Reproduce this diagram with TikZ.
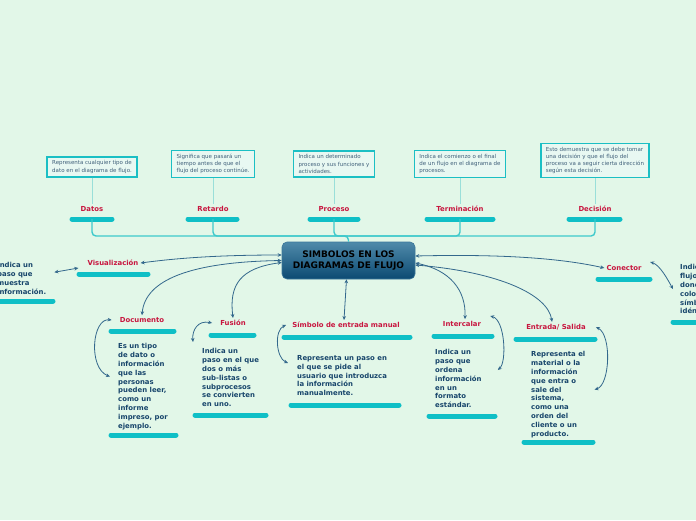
\documentclass[tikz,border=0pt]{standalone}
\usepackage{fontspec}
\setmainfont{DejaVu Sans}
\usetikzlibrary{arrows.meta}
\definecolor{bgc}{HTML}{E2F7E8}
\definecolor{barc}{HTML}{0FBFC6}
\definecolor{toplinec}{HTML}{3DC9CB}
\definecolor{lightlinec}{HTML}{9ADFD9}
\definecolor{arrc}{HTML}{33688C}
\definecolor{labc}{HTML}{C8163F}
\definecolor{descc}{HTML}{17456B}
\definecolor{boxtc}{HTML}{40607A}
\definecolor{boxbc}{HTML}{1BBFC4}
\definecolor{boxfc}{HTML}{E8F8F2}
\definecolor{ctop}{HTML}{4F8AAA}
\definecolor{cbot}{HTML}{0C4A72}
\tikzset{
  lab/.style={text=labc, font=\fontsize{6.9}{8}\selectfont\bfseries, inner sep=2pt},
  desc/.style={text=descc, font=\fontsize{6.9}{8.9}\selectfont\bfseries, align=left, inner sep=0pt, anchor=north west},
  topbox/.style={draw=boxbc, line width=1.6pt, fill=boxfc, text=boxtc, font=\fontsize{5.5}{7.3}\selectfont, align=left, inner xsep=5pt, inner ysep=3.5pt},
  bar/.style={barc, line width=5pt, line cap=round},
  topline/.style={toplinec, line width=1.4pt, rounded corners=4pt},
  thinline/.style={lightlinec, line width=1pt},
  arr/.style={arrc, line width=0.8pt, {Stealth[length=4pt,width=3.6pt]}-{Stealth[length=4pt,width=3.6pt]}},
  centre/.style={rounded corners=5pt, top color=ctop, bottom color=cbot, draw=ctop!70!cbot, line width=0.6pt, minimum width=133pt, minimum height=37pt, align=center, font=\fontsize{9}{11}\selectfont\bfseries, text=black}
}
\begin{document}
\begin{tikzpicture}[x=1pt,y=-1pt]
\fill[bgc] (0,0) rectangle (696,520);
\useasboundingbox (0,0) rectangle (696,520);

% centre
\node[centre] (c) at (348.5,260.5) {SIMBOLOS EN LOS\\DIAGRAMAS DE FLUJO};

% top branches
\node[lab] (datos) at (92,209) {Datos};
\node[lab] (retardo) at (213,209) {Retardo};
\node[lab] (proceso) at (334,209) {Proceso};
\node[lab] (term) at (460,209) {Terminación};
\node[lab] (decis) at (595,209) {Decisión};
\draw[bar] (72,219) -- (112,219);
\draw[bar] (188,219) -- (237,219);
\draw[bar] (310,219) -- (358,219);
\draw[bar] (427,219) -- (493,219);
\draw[bar] (569,219) -- (620,219);

\node[topbox] (datosb) at (92,167) {Representa cualquier tipo de\\dato en el diagrama de flujo.};
\node[topbox] (retardob) at (213,164) {Significa que pasará un\\tiempo antes de que el\\flujo del proceso continúe.};
\node[topbox] (procesob) at (334,164) {Indica un determinado\\proceso y sus funciones y\\actividades.};
\node[topbox] (termb) at (460,164) {Indica el comienzo o el final\\de un flujo en el diagrama de\\procesos.};
\node[topbox] (decisb) at (595,160.5) {Esto demuestra que se debe tomar\\una decisión y que el flujo del\\proceso va a seguir cierta dirección\\según esta decisión.};

\draw[thinline] (datosb.south) -- (datos.north);
\draw[thinline] (retardob.south) -- (retardo.north);
\draw[thinline] (procesob.south) -- (proceso.north);
\draw[thinline] (termb.south) -- (term.north);
\draw[thinline] (decisb.south) -- (decis.north);

\draw[topline] ([yshift=-10pt]datos.center) |- (348.5,236) -- (c.north);
\draw[topline] ([yshift=-10pt]retardo.center) |- (348.5,236);
\draw[topline] ([yshift=-10pt]proceso.center) |- (348.5,236);
\draw[topline] ([yshift=-10pt]term.center) |- (348.5,236);
\draw[topline] ([yshift=-10pt]decis.center) |- (348.5,236);

% labels of the lower branches
\node[lab] (vis) at (113,263) {Visualización};
\node[lab] (doc) at (142,320) {Documento};
\node[lab] (fus) at (233,323) {Fusión};
\node[lab] (man) at (346,325) {Símbolo de entrada manual};
\node[lab] (int) at (462,324) {Intercalar};
\node[lab] (ent) at (556,327) {Entrada/ Salida};
\node[lab] (con) at (624,268) {Conector};
\draw[bar] (79,274) -- (148,274);
\draw[bar] (111,331) -- (174,331);
\draw[bar] (211,335) -- (254,335);
\draw[bar] (284,337) -- (410,337);
\draw[bar] (434,336) -- (492,336);
\draw[bar] (516,339) -- (595,339);
\draw[bar] (598,279) -- (650,279);

% descriptions
\node[desc] (visd) at (-3,262) {Indica un\\paso que\\muestra\\información.};
\node[desc] (docd) at (118,343) {Es un tipo\\de dato o\\información\\que las\\personas\\pueden leer,\\como un\\informe\\impreso, por\\ejemplo.};
\node[desc] (fusd) at (202,348) {Indica un\\paso en el que\\dos o más\\sub-listas o\\subprocesos\\se convierten\\en uno.};
\node[desc] (mand) at (297,355) {Representa un paso en\\el que se pide al\\usuario que introduzca\\la información\\manualmente.};
\node[desc] (intd) at (435,349) {Indica un\\paso que\\ordena\\información\\en un\\formato\\estándar.};
\node[desc] (entd) at (531,351) {Representa el\\material o la\\información\\que entra o\\sale del\\sistema,\\como una\\orden del\\cliente o un\\producto.};
\node[desc] (cond) at (680,264) {Indica que el\\flujo continúa\\donde se ha\\colocado un\\símbolo\\idéntico.};
\draw[bar] (-5,301) -- (53,301);
\draw[bar] (111,435) -- (176,435);
\draw[bar] (195,415) -- (266,415);
\draw[bar] (291,405) -- (399,405);
\draw[bar] (429,416) -- (495,416);
\draw[bar] (524,442) -- (593,442);
\draw[bar] (673,322) -- (700,322);

% connectors from the centre
\draw[arr] ([yshift=5.5pt]c.west) .. controls (230,255) and (185,257) .. (vis.east);
\draw[arr] (c.west) .. controls (190,262) and (145,280) .. (doc.north);
\draw[arr] ([yshift=-2pt]c.west) .. controls (240,268) and (229,285) .. (fus.north);
\draw[arr] ([xshift=-2pt]c.south) -- ([xshift=-2pt]man.north);
\draw[arr] ([yshift=-2.5pt]c.east) .. controls (450,270) and (466,290) .. ([xshift=3pt]int.north);
\draw[arr] ([yshift=-4.5pt]c.east) .. controls (500,272) and (548,295) .. ([xshift=-4pt]ent.north);
\draw[arr] ([yshift=4.5pt]c.east) .. controls (500,254) and (560,258) .. (con.west);

% connectors from label to description
\draw[arr] ([xshift=-7pt,yshift=-5pt]vis.west) -- ([xshift=8pt,yshift=6pt]visd.east);
\draw[arr] ([xshift=-6pt]doc.west) .. controls (92,318) and (88,368) .. ([xshift=-8pt,yshift=10pt]docd.west);
\draw[arr] ([xshift=-6pt]fus.west) .. controls (198,320) and (192,330) .. ([xshift=-9pt,yshift=6pt]fusd.north west);
\draw[arr] ([xshift=-4pt]man.west) .. controls (274,330) and (276,358) .. ([xshift=-9pt,yshift=-8pt]mand.north west);
\draw[arr] ([xshift=7pt,yshift=8pt]int.east) .. controls (505,320) and (507,362) .. ([xshift=16pt,yshift=-21pt]intd.north east);
\draw[arr] ([xshift=8pt]ent.east) .. controls (612,335) and (610,385) .. ([xshift=9pt,yshift=5pt]entd.east);
\draw[arr] ([xshift=6.5pt,yshift=6pt]con.east) .. controls (660,265) and (668,280) .. ([xshift=-7pt]cond.west);
\end{tikzpicture}
\end{document}
